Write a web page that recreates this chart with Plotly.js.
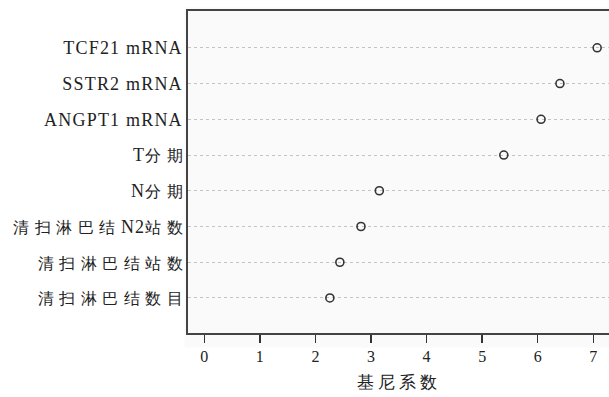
<!DOCTYPE html>
<html>
<head>
<meta charset="utf-8">
<script src="https://cdn.plot.ly/plotly-3.0.1.min.js"></script>
<style>
  html, body { margin: 0; padding: 0; background: #ffffff; }
  #chart { width: 609px; height: 397px; }
  .xtitle { letter-spacing: 4px; }
  .ytick text { letter-spacing: 1.2px; }
</style>
</head>
<body>
<div id="chart"></div>
<script>
// Categories listed bottom-to-top as drawn on the y axis
const features = [
  "清扫淋巴结数目",
  "清扫淋巴结站数",
  "清扫淋巴结N2站数",
  "N分期",
  "T分期",
  "ANGPT1 mRNA",
  "SSTR2 mRNA",
  "TCF21 mRNA"
];
// Gini coefficient (mean decrease Gini) per feature
const gini = [2.26, 2.44, 2.82, 3.15, 5.39, 6.06, 6.40, 7.07];
const xTickVals = [0, 1, 2, 3, 4, 5, 6, 7];
const xTitle = "基尼系数";

// Styling: CJK chars get their own size/spacing (no trailing spacing on last char)
function styleLabel(s) {
  const chars = Array.from(s);
  let out = "";
  chars.forEach((c, i) => {
    const cjk = /[\u4e00-\u9fff]/.test(c);
    if (cjk) {
      const sp = (i === chars.length - 1) ? 0 : 5.5;
      out += '<span style="font-size:16px;letter-spacing:' + sp + 'px">' + c + '</span>';
    } else {
      out += c;
    }
  });
  return out;
}

const yIdx = features.map((_, i) => i);

const trace = {
  type: "scatter",
  mode: "markers",
  x: gini,
  y: yIdx,
  marker: {
    symbol: "circle-open",
    size: 8,
    color: "#333333",
    line: { width: 1.6, color: "#333333" }
  },
  hoverinfo: "x+text",
  text: features,
  showlegend: false
};

const fontFam = "Liberation Serif";

const layout = {
  width: 609,
  height: 397,
  margin: { l: 188, r: 0, t: 11, b: 64 },
  paper_bgcolor: "#ffffff",
  plot_bgcolor: "rgba(0,0,0,0)",
  font: { family: fontFam, size: 16, color: "#222222" },
  xaxis: {
    range: [-0.293, 7.283],
    tickmode: "array",
    tickvals: xTickVals,
    ticktext: xTickVals.map(String),
    ticks: "outside",
    ticklen: 8,
    tickwidth: 1.5,
    tickcolor: "#333333",
    showgrid: false,
    zeroline: false,
    showline: true,
    linecolor: "#444444",
    linewidth: 1.6,
    mirror: true,
    tickfont: { family: fontFam, size: 16, color: "#222222" },
    title: { text: xTitle, font: { family: fontFam, size: 17, color: "#222222" }, standoff: 12 }
  },
  yaxis: {
    range: [-0.98, 8.03],
    tickmode: "array",
    tickvals: yIdx,
    ticktext: features.map(styleLabel),
    ticks: "",
    showgrid: true,
    gridcolor: "#c4c4c4",
    gridwidth: 1,
    griddash: "dot",
    zeroline: false,
    showline: true,
    linecolor: "#444444",
    linewidth: 1.6,
    tickfont: { family: fontFam, size: 18, color: "#222222" },
    ticklabelstandoff: 0
  },
  shapes: [{
    type: "rect",
    xref: "paper", yref: "paper",
    x0: -0.008, x1: 1.05, y0: -0.045, y1: 1.012,
    fillcolor: "#fafafa",
    line: { width: 0 },
    layer: "below"
  }]
};

Plotly.newPlot("chart", [trace], layout, { displayModeBar: false, staticPlot: true });
</script>
</body>
</html>
